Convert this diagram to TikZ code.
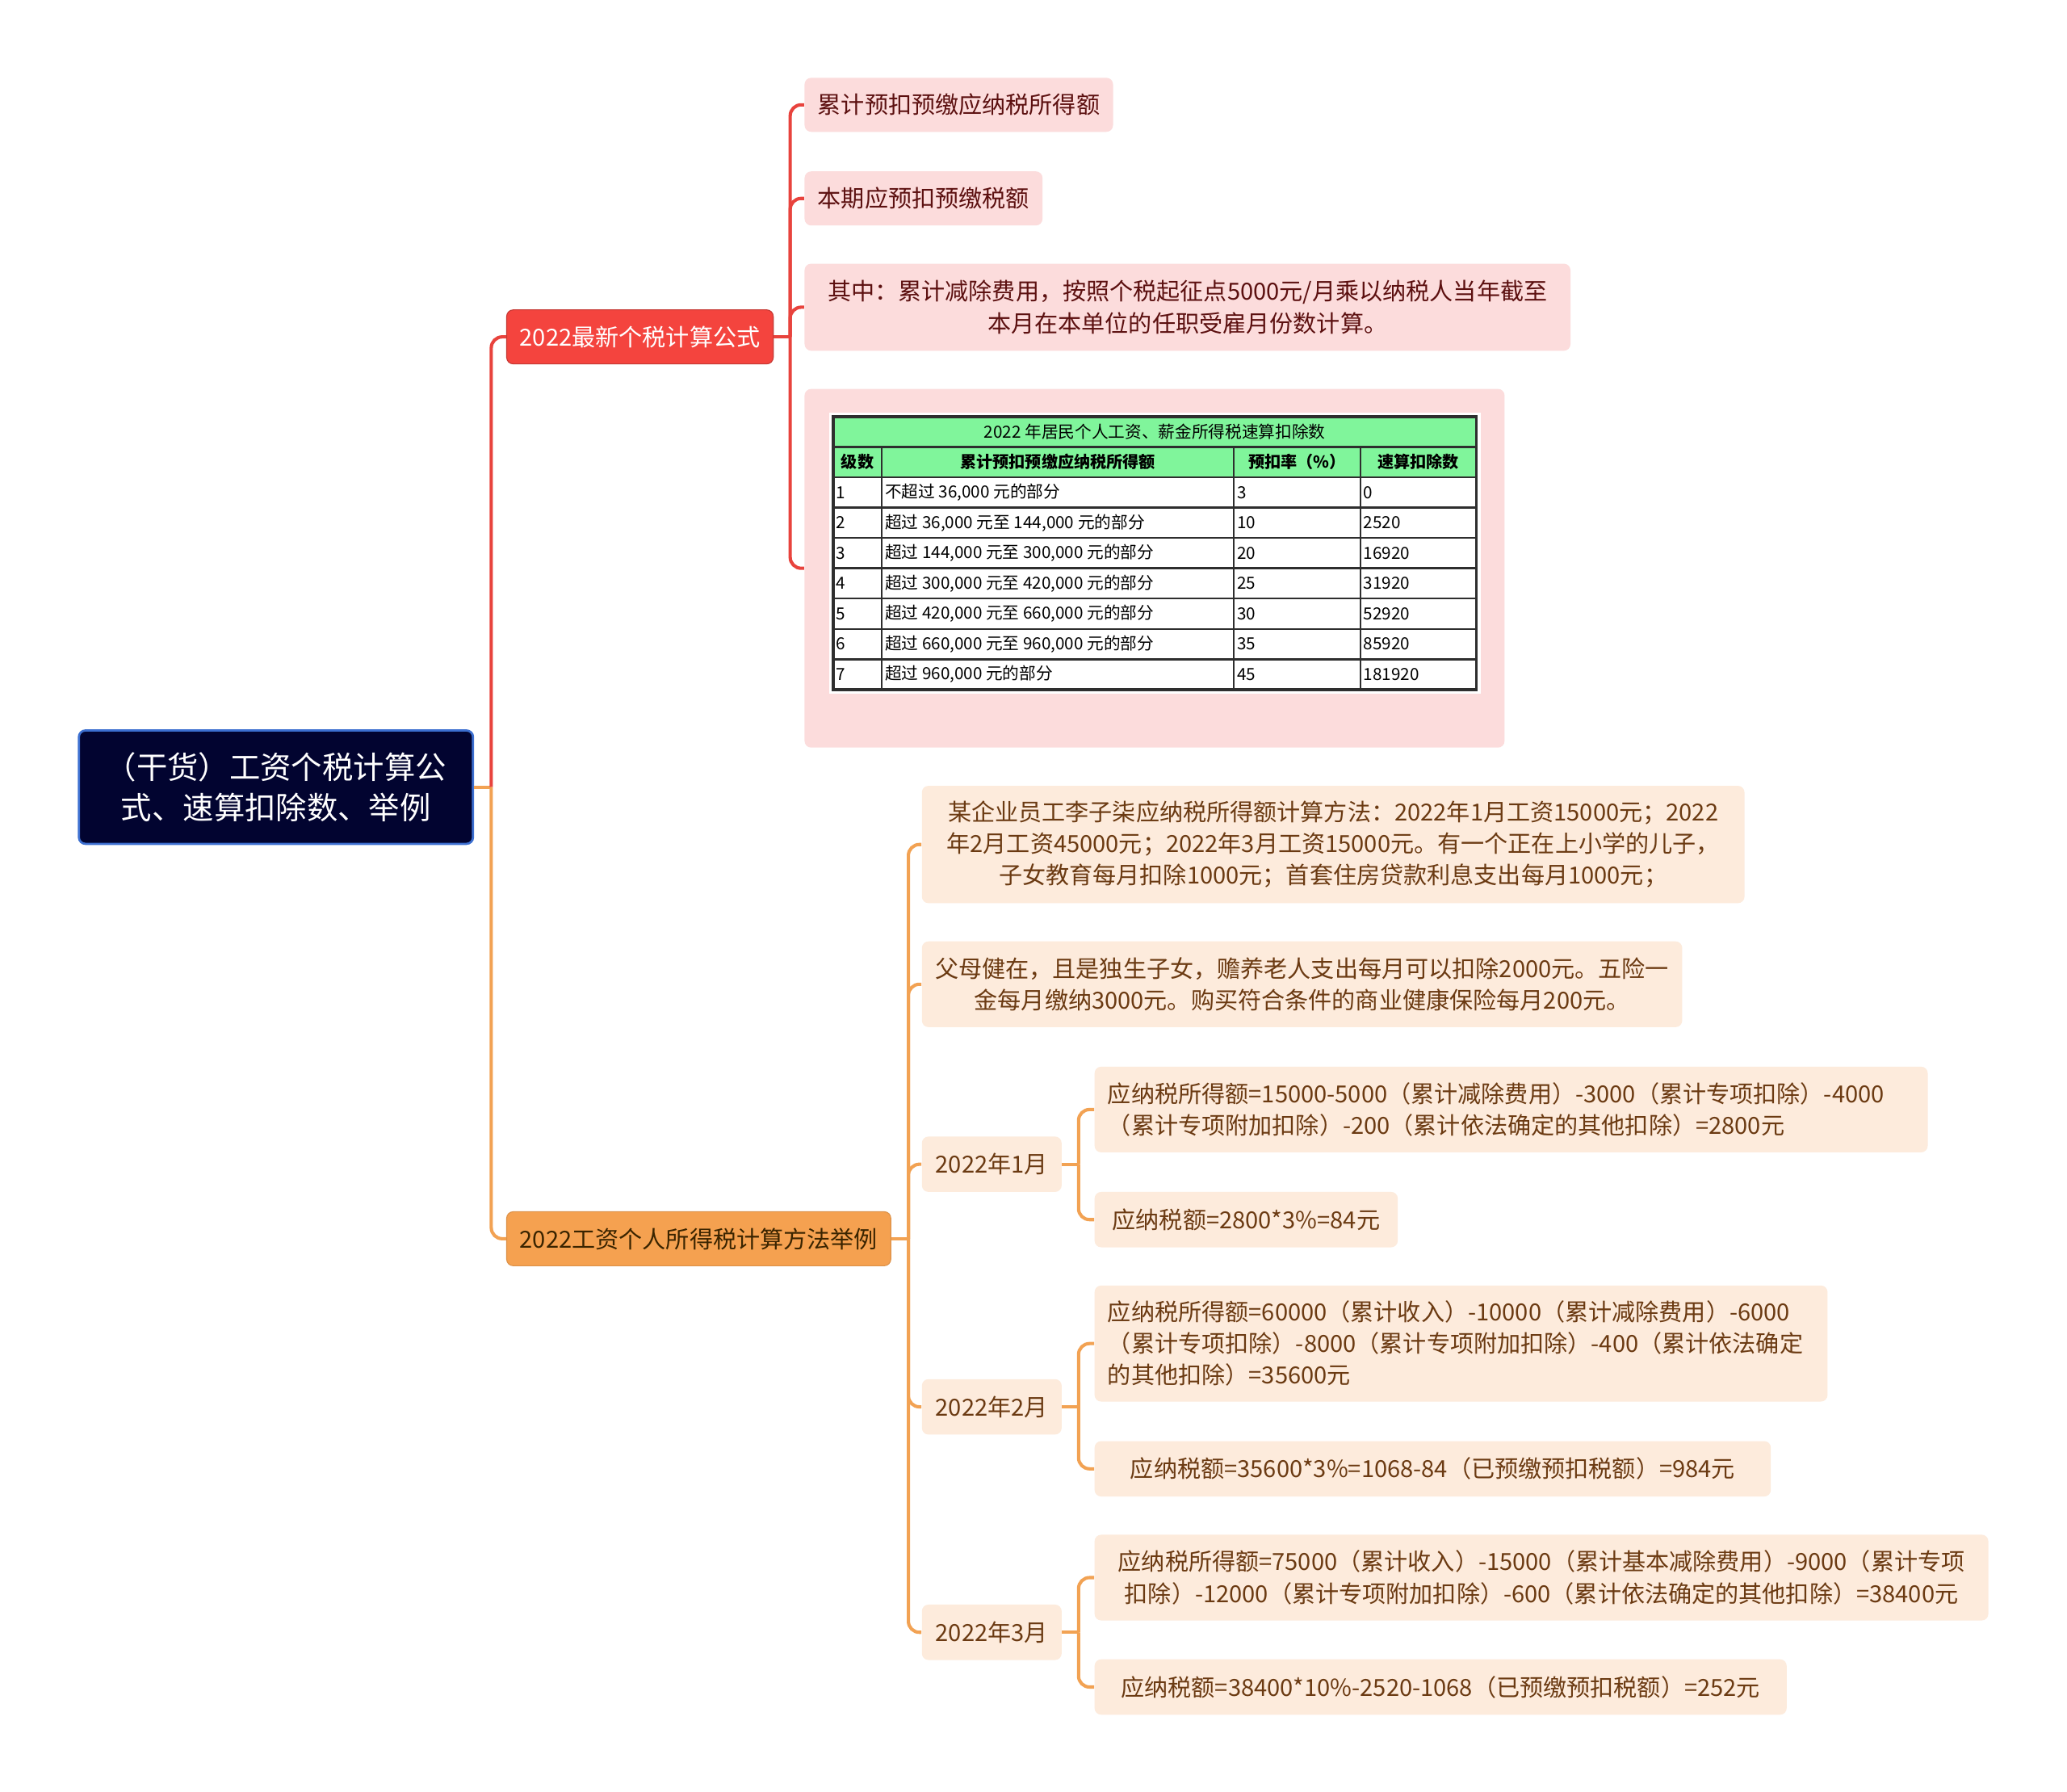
\documentclass[tikz,border=0pt]{standalone}
\usepackage{fontspec}
\setmainfont{Noto Sans CJK SC}
\usetikzlibrary{calc}
\definecolor{rootfill}{HTML}{020430}
\definecolor{rootline}{HTML}{3C6FD0}
\definecolor{redmain}{HTML}{F4443E}
\definecolor{redline}{HTML}{E8433D}
\definecolor{redsoft}{HTML}{FCDCDC}
\definecolor{redtext}{HTML}{5C1010}
\definecolor{orgmain}{HTML}{F5A150}
\definecolor{orgline}{HTML}{F2A253}
\definecolor{orgsoft}{HTML}{FDEBDC}
\definecolor{orgtext}{HTML}{6B3A12}
\definecolor{orgdark}{HTML}{3A2400}
\definecolor{tabgreen}{HTML}{80F59B}
\definecolor{tabline}{HTML}{2E2E2E}
\begin{document}
\begin{tikzpicture}[x=0.6pt,y=-0.6pt,
  box/.style={rectangle, rounded corners=3pt, inner xsep=6pt, inner ysep=0pt, anchor=west,
    font=\fontsize{10.7}{14.4}\selectfont},
  rsoft/.style={box, fill=redsoft, text=redtext},
  osoft/.style={box, fill=orgsoft, text=orgtext},
  rline/.style={draw=redline, line width=1.5pt},
  oline/.style={draw=orgline, line width=1.5pt},
  rc/.style={rounded corners=5pt},
  tabtxt/.style={inner sep=0pt, text=black, font=\fontsize{7.6}{8}\selectfont},
  tabcell/.style={tabtxt, anchor=west},
  tabhead/.style={tabtxt, font=\fontsize{7.4}{8}\selectfont\bfseries},
  thinrule/.style={draw=tabline, line width=0.9pt},
  thickrule/.style={draw=tabline, line width=1.3pt}
]
\useasboundingbox (0,0) rectangle (1568,1359);
\fill[white] (0,0) rectangle (1568,1359);

% root
\node[box, fill=rootfill, draw=rootline, line width=1pt, text=white, align=center,
      font=\fontsize{14.1}{18.6}\selectfont, minimum width=179.4pt, minimum height=51.6pt]
      (root) at (59,597) {（干货）工资个税计算公\\式、速算扣除数、举例};

% main branches
\node[box, fill=redmain, draw=redline!85!black, line width=0.4pt, text=white,
      minimum width=120.6pt, minimum height=24.6pt] (rb) at (384,255.5) {2022最新个税计算公式};
\node[box, fill=orgmain, draw=orgmain!90!black, line width=0.4pt, text=orgdark,
      minimum width=173.4pt, minimum height=24.6pt] (ob) at (384,939.5) {2022工资个人所得税计算方法举例};

% red children
\node[rsoft, minimum width=138.6pt, minimum height=24.6pt] (rc1) at (610,79.5) {累计预扣预缴应纳税所得额};
\node[rsoft, minimum width=106.8pt, minimum height=24.6pt] (rc2) at (610,150.5) {本期应预扣预缴税额};
\node[rsoft, align=center, minimum width=348.6pt, minimum height=39.6pt] (rc3) at (610,233)
  {其中：累计减除费用，按照个税起征点5000元/月乘以纳税人当年截至\\本月在本单位的任职受雇月份数计算。};
\node[rsoft, minimum width=318.6pt, minimum height=163.2pt] (rc4) at (610,431) {};

% table
\fill[white] (629,313) rectangle (1123,526);
\fill[tabgreen] (632,316) rectangle (1120,362);
\foreach \k in {1,...,8} \draw[thinrule] (632,316+23*\k) -- (1120,316+23*\k);
\foreach \cx in {669,936,1032} \draw[thinrule] (\cx,339) -- (\cx,523);
\draw[thickrule] (632,316) rectangle (1120,523);
\node[tabtxt] (ttitle) at (876,327.5) {2022 年居民个人工资、薪金所得税速算扣除数};
\node[tabhead] (th1) at (650.5,350.5) {级数};
\node[tabhead] (th2) at (802.5,350.5) {累计预扣预缴应纳税所得额};
\node[tabhead] (th3) at (984,350.5) {预扣率（\%）};
\node[tabhead] (th4) at (1076,350.5) {速算扣除数};
\foreach \i/\a/\r/\d [count=\n] in {
  1/{不超过 36,000 元的部分}/3/0,
  2/{超过 36,000 元至 144,000 元的部分}/10/2520,
  3/{超过 144,000 元至 300,000 元的部分}/20/16920,
  4/{超过 300,000 元至 420,000 元的部分}/25/31920,
  5/{超过 420,000 元至 660,000 元的部分}/30/52920,
  6/{超过 660,000 元至 960,000 元的部分}/35/85920,
  7/{超过 960,000 元的部分}/45/181920} {
  \node[tabcell] (ta\n) at (634,373.5+23*\n-23) {\i};
  \node[tabcell] (tb\n) at (671,373.5+23*\n-23) {\a};
  \node[tabcell] (tc\n) at (938,373.5+23*\n-23) {\r};
  \node[tabcell] (td\n) at (1034,373.5+23*\n-23) {\d};
}

% orange children
\node[osoft, align=center, minimum width=374.4pt, minimum height=53.4pt] (oc1) at (699,640.5)
  {某企业员工李子柒应纳税所得额计算方法：2022年1月工资15000元；2022\\年2月工资45000元；2022年3月工资15000元。有一个正在上小学的儿子，\\子女教育每月扣除1000元；首套住房贷款利息支出每月1000元；};
\node[osoft, align=center, minimum width=344.4pt, minimum height=39pt] (oc2) at (699,746.5)
  {父母健在，且是独生子女，赡养老人支出每月可以扣除2000元。五险一\\金每月缴纳3000元。购买符合条件的商业健康保险每月200元。};
\node[osoft, minimum width=63.6pt, minimum height=25.2pt] (m1) at (699,883) {2022年1月};
\node[osoft, minimum width=63.6pt, minimum height=25.2pt] (m2) at (699,1067) {2022年2月};
\node[osoft, minimum width=63.6pt, minimum height=25.2pt] (m3) at (699,1238) {2022年3月};

\node[osoft, align=left, text width=367.2pt, minimum height=39pt] (j1) at (830,841.5)
  {应纳税所得额=15000-5000（累计减除费用）-3000（累计专项扣除）-4000\\（累计专项附加扣除）-200（累计依法确定的其他扣除）=2800元};
\node[osoft, minimum width=138pt, minimum height=25.2pt] (j2) at (830,925) {应纳税额=2800*3\%=84元};
\node[osoft, align=left, text width=321.6pt, minimum height=52.8pt] (f1) at (830,1019)
  {应纳税所得额=60000（累计收入）-10000（累计减除费用）-6000\\（累计专项扣除）-8000（累计专项附加扣除）-400（累计依法确定\\的其他扣除）=35600元};
\node[osoft, minimum width=307.8pt, minimum height=25.2pt] (f2) at (830,1114) {应纳税额=35600*3\%=1068-84（已预缴预扣税额）=984元};
\node[osoft, align=center, minimum width=406.8pt, minimum height=39pt] (t1) at (830,1196.5)
  {应纳税所得额=75000（累计收入）-15000（累计基本减除费用）-9000（累计专项\\扣除）-12000（累计专项附加扣除）-600（累计依法确定的其他扣除）=38400元};
\node[osoft, minimum width=315pt, minimum height=25.2pt] (t2) at (830,1279.5) {应纳税额=38400*10\%-2520-1068（已预缴预扣税额）=252元};

% connectors
\coordinate (rj) at ($(root.east)+(13,0)$);
\draw[oline] (root.east) -- (rj);
\draw[rline, rc] (rj) |- (rb.west);
\draw[oline, rc] (rj) |- (ob.west);

\coordinate (rbj) at ($(rb.east)+(12.5,0)$);
\draw[rline] (rb.east) -- (rbj);
\foreach \c in {rc1,rc2,rc3,rc4} \draw[rline, rc] (rbj) |- (\c.west);

\coordinate (obj) at ($(ob.east)+(13,0)$);
\draw[oline] (ob.east) -- (obj);
\foreach \c in {oc1,oc2,m1,m2,m3} \draw[oline, rc] (obj) |- (\c.west);

\coordinate (m1j) at ($(m1.east)+(12.5,0)$);
\draw[oline] (m1.east) -- (m1j);
\foreach \c in {j1,j2} \draw[oline, rc] (m1j) |- (\c.west);

\coordinate (m2j) at ($(m2.east)+(12.5,0)$);
\draw[oline] (m2.east) -- (m2j);
\foreach \c in {f1,f2} \draw[oline, rc] (m2j) |- (\c.west);

\coordinate (m3j) at ($(m3.east)+(12.5,0)$);
\draw[oline] (m3.east) -- (m3j);
\foreach \c in {t1,t2} \draw[oline, rc] (m3j) |- (\c.west);
\end{tikzpicture}
\end{document}
